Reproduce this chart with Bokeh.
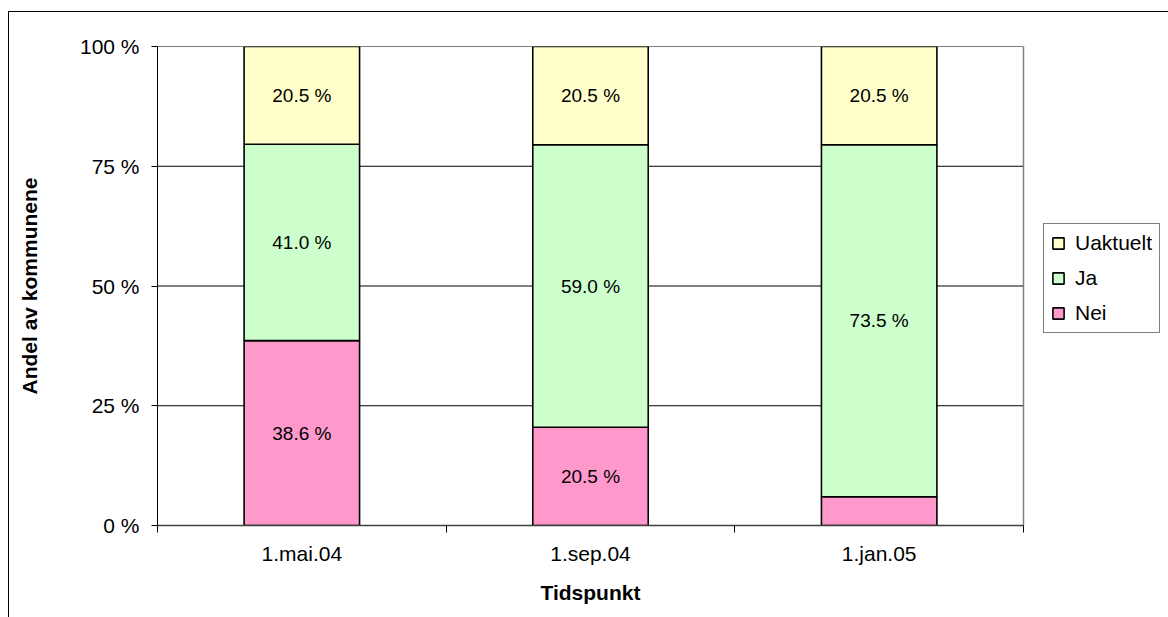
from bokeh.plotting import figure
from bokeh.models import (ColumnDataSource, FixedTicker, Legend, LegendItem,
                          Range1d, PrintfTickFormatter, Title)
from bokeh.core.properties import value
from bokeh.embed import file_html
from bokeh.resources import INLINE

categories = ["1.mai.04", "1.sep.04", "1.jan.05"]
nei = [38.6, 20.5, 6.0]
ja = [41.0, 59.0, 73.5]
uaktuelt = [20.5, 20.5, 20.5]
show_nei_label = [True, True, False]
y_ticks = [0, 25, 50, 75, 100]

FONT = "Liberation Sans"
colors = {"Nei": "#FF99CC", "Ja": "#CCFFCC", "Uaktuelt": "#FFFFCC"}

n = len(categories)
xs = [i + 0.5 for i in range(n)]
src = ColumnDataSource(dict(x=xs, Nei=nei, Ja=ja, Uaktuelt=uaktuelt))

# frame spans to the right window edge so the legend can sit in it;
# the category area occupies 866 px of the 1011 px frame
x_end = n * 1011 / 866

p = figure(width=1159, height=605, margin=(12, 0, 0, 9),
           x_range=Range1d(0, x_end), y_range=Range1d(0, 100),
           output_backend="svg", toolbar_location=None,
           min_border_left=148, min_border_right=0,
           min_border_top=34, min_border_bottom=92)
p.styles = {"outline": "1px solid #000000"}
p.background_fill_color = "white"
p.border_fill_color = "white"
p.outline_line_color = None

# grid lines and right border of the plot area, limited to the category area
p.segment(x0=[0] * len(y_ticks), x1=[n] * len(y_ticks), y0=y_ticks, y1=y_ticks,
          line_color="black", line_width=1)
p.segment(x0=[n], x1=[n], y0=[0], y1=[100], line_color="#808080", line_width=1.5)

renderers = p.vbar_stack(["Nei", "Ja", "Uaktuelt"], x="x", width=0.4, source=src,
                         fill_color=[colors["Nei"], colors["Ja"], colors["Uaktuelt"]],
                         line_color="black", line_width=1.6)

# value labels centred in each segment
lx, ly, lt = [], [], []
for i in range(n):
    base = 0.0
    for name, vals in (("Nei", nei), ("Ja", ja), ("Uaktuelt", uaktuelt)):
        v = vals[i]
        if not (name == "Nei" and not show_nei_label[i]):
            lx.append(xs[i])
            ly.append(base + v / 2)
            lt.append(f"{v:.1f} %")
        base += v
p.text(x=lx, y=ly, text=lt, text_align="center", text_baseline="middle",
       text_font=value(FONT), text_font_size="19px", text_color="black")

# axes
p.xaxis.bounds = (0, n)
p.xaxis.ticker = FixedTicker(ticks=xs, minor_ticks=list(range(n + 1)))
p.xaxis.major_label_overrides = {x: c for x, c in zip(xs, categories)}
p.xaxis.major_tick_line_color = None
p.xaxis.major_tick_out = 0
p.xaxis.major_tick_in = 0
p.xaxis.minor_tick_line_color = "black"
p.xaxis.minor_tick_out = 7
p.xaxis.minor_tick_in = 0
p.xaxis.axis_line_color = "#404040"
p.xaxis.axis_line_width = 1.5
p.xaxis.major_label_text_font = FONT
p.xaxis.major_label_text_font_size = "21px"
p.xaxis.major_label_text_color = "black"
p.xaxis.major_label_standoff = 9

# x axis title, centred on the category area
xtitle = Title(text="Tidspunkt", align="left", offset=383, standoff=23,
               text_font=FONT, text_font_style="bold", text_font_size="21px",
               text_color="black")
p.add_layout(xtitle, "below")

p.yaxis.ticker = FixedTicker(ticks=y_ticks, minor_ticks=[])
p.yaxis.formatter = PrintfTickFormatter(format="%d %%")
p.yaxis.major_tick_out = 6
p.yaxis.major_tick_in = 0
p.yaxis.major_tick_line_color = "black"
p.yaxis.axis_line_color = "black"
p.yaxis.major_label_text_font = FONT
p.yaxis.major_label_text_font_size = "21px"
p.yaxis.major_label_text_color = "black"
p.yaxis.major_label_standoff = 12
p.yaxis.axis_label = "Andel av kommunene"
p.yaxis.axis_label_text_font = FONT
p.yaxis.axis_label_text_font_style = "bold"
p.yaxis.axis_label_text_font_size = "21px"
p.yaxis.axis_label_text_color = "black"
p.yaxis.axis_label_standoff = 36

p.xgrid.visible = False
p.ygrid.visible = False

legend = Legend(items=[LegendItem(label="Uaktuelt", renderers=[renderers[2]]),
                       LegendItem(label="Ja", renderers=[renderers[1]]),
                       LegendItem(label="Nei", renderers=[renderers[0]])],
                location=(886, 192), orientation="vertical")
legend.label_text_font = FONT
legend.label_text_font_size = "21px"
legend.label_text_color = "black"
legend.glyph_width = 14
legend.glyph_height = 14
legend.label_height = 20
legend.spacing = 11
legend.padding = 7
legend.margin = 0
legend.label_standoff = 10
legend.border_line_color = "black"
legend.border_line_width = 1
legend.background_fill_alpha = 1
p.add_layout(legend, "center")

open("out.html", "w").write(file_html(p, INLINE))
